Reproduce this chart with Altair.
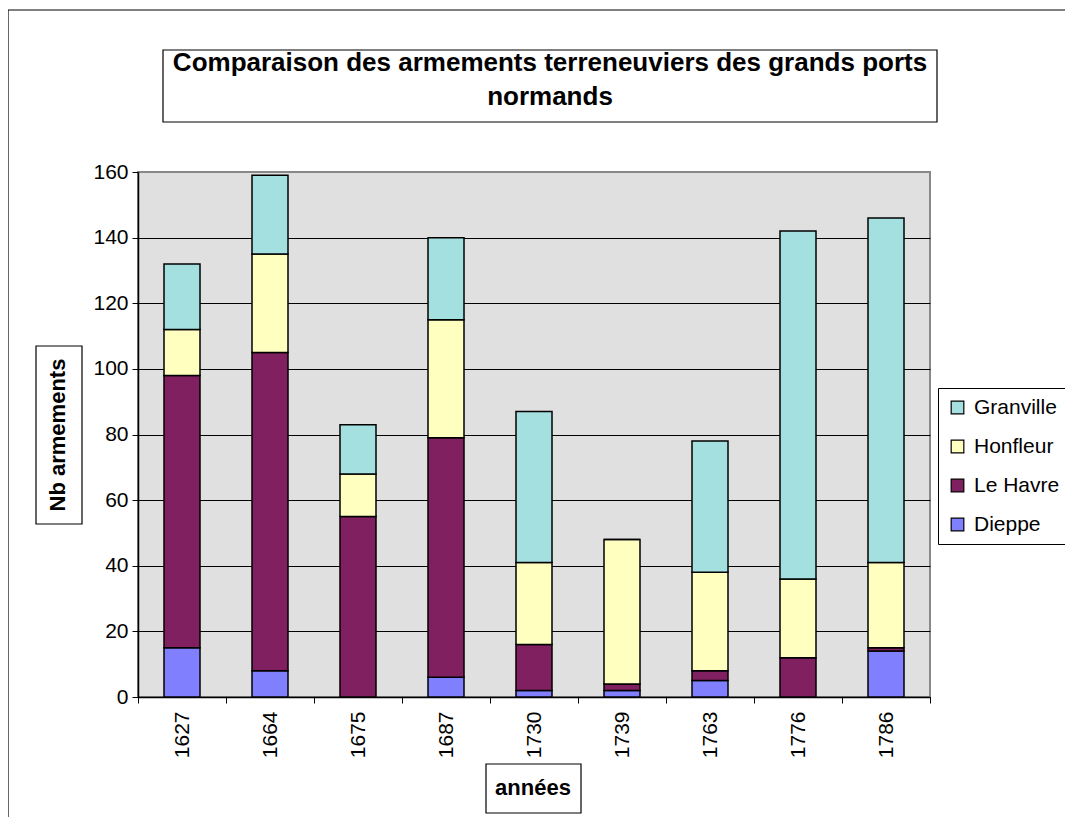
import altair as alt
import pandas as pd

years = ["1627", "1664", "1675", "1687", "1730", "1739", "1763", "1776", "1786"]
dieppe = [15, 8, 0, 6, 2, 2, 5, 0, 14]
le_havre = [83, 97, 55, 73, 14, 2, 3, 12, 1]
honfleur = [14, 30, 13, 36, 25, 44, 30, 24, 26]
granville = [20, 24, 15, 25, 46, 0, 40, 106, 105]

stack_order = ["Dieppe", "Le Havre", "Honfleur", "Granville"]
legend_order = ["Granville", "Honfleur", "Le Havre", "Dieppe"]
legend_colors = ["#A4E0E0", "#FFFFC0", "#802060", "#8080FF"]
y_ticks = [0, 20, 40, 60, 80, 100, 120, 140, 160]

title_line1 = "Comparaison des armements terreneuviers des grands ports"
title_line2 = "normands"
y_title = "Nb armements"
x_title = "années"

FONT = "Liberation Sans"

series_values = {"Dieppe": dieppe, "Le Havre": le_havre, "Honfleur": honfleur, "Granville": granville}
rows = []
for port in stack_order:
    for yr, v in zip(years, series_values[port]):
        rows.append({"year": yr, "port": port, "value": v, "ord": stack_order.index(port)})
df = pd.DataFrame(rows)
one = pd.DataFrame({"a": [0]})

bars = alt.Chart(df).mark_bar(size=36, stroke="black", strokeWidth=1.5).encode(
    x=alt.X("year:N", sort=years, title=None,
            scale=alt.Scale(paddingInner=0, paddingOuter=0),
            axis=alt.Axis(tickBand="extent", labelAngle=-90, labelAlign="right", labelBaseline="middle",
                          labelFontSize=21, labelFont=FONT, labelColor="black", labelPadding=8,
                          tickColor="black", tickSize=6, domainColor="black", domainWidth=1.5,
                          grid=False)),
    y=alt.Y("value:Q", stack="zero", title=None,
            scale=alt.Scale(domain=[0, 160], nice=False),
            axis=alt.Axis(values=y_ticks, labelFontSize=21, labelFont=FONT, labelColor="black",
                          labelPadding=4, tickColor="black", tickSize=6, domainColor="black",
                          domainWidth=1.5, grid=True,
                          gridColor=alt.condition("datum.value == 160", alt.value("#888888"), alt.value("black")),
                          gridWidth=1)),
    color=alt.Color("port:N", scale=alt.Scale(domain=legend_order, range=legend_colors),
                    legend=alt.Legend(title=None, orient="none", legendX=800, legendY=216,
                                      strokeColor="black", fillColor="white", padding=9,
                                      symbolType="square", symbolSize=160, symbolStrokeColor="black",
                                      symbolStrokeWidth=1.2, labelFontSize=21, labelFont=FONT,
                                      labelColor="black", labelOffset=6, rowPadding=17)),
    order=alt.Order("ord:Q", sort="ascending"),
)

def box(x1, x2, y1, y2, fill="white"):
    return alt.Chart(one).mark_rect(fill=fill, stroke="black", strokeWidth=1.2).encode(
        x=alt.value(x1), x2=alt.value(x2), y=alt.value(y1), y2=alt.value(y2))

def label(txt, x, y, size, angle=0):
    return alt.Chart(one).mark_text(text=txt, font=FONT, fontSize=size, fontWeight="bold",
                                    align="center", baseline="middle", angle=angle,
                                    color="black").encode(x=alt.value(x), y=alt.value(y))

title_box = box(25, 799, -122, -50)
t1 = label(title_line1, 412, -109, 26)
t2 = label(title_line2, 412, -75, 26)
ybox = box(-102, -56, 174, 352)
yt = label(y_title, -80, 263, 22, angle=270)
xbox = box(348, 443, 592, 641)
xt = label(x_title, 395, 616, 22)

frame_top = alt.Chart(one).mark_rule(color="black", strokeWidth=1.2).encode(
    x=alt.value(-130), x2=alt.value(931), y=alt.value(-162))
frame_left = alt.Chart(one).mark_rule(color="black", strokeWidth=1.2).encode(
    x=alt.value(-130), y=alt.value(-162), y2=alt.value(660))

chart = alt.layer(bars, title_box, t1, t2, ybox, yt, xbox, xt, frame_top, frame_left).properties(
    width=792, height=525,
    autosize=alt.AutoSizeParams(type="none"),
    padding={"left": 130, "top": 164, "right": 135, "bottom": 120},
    background="white",
).configure_view(fill="#E0E0E0", stroke="#888888", strokeWidth=2)

chart.save("out.html", embed_options={"renderer": "svg", "actions": False})
